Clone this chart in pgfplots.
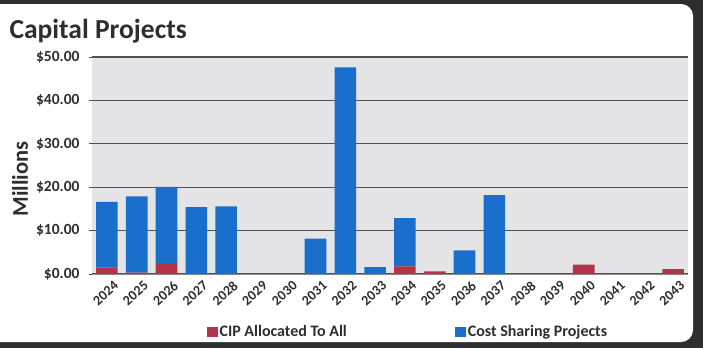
\documentclass[border=0pt]{standalone}
\usepackage{pgfplots}
\pgfplotsset{compat=1.18}
\usepackage{fontspec}
\setmainfont{Carlito}
\definecolor{cipred}{HTML}{B3344A}
\definecolor{costblue}{HTML}{1A6FCC}
\definecolor{plotbg}{HTML}{E4E4E7}
\definecolor{framec}{HTML}{2E2E2E}
\begin{document}
\begin{tikzpicture}
\useasboundingbox (0pt,0pt) rectangle (703pt,-348pt);
\fill[framec] (0pt,0pt) rectangle (703pt,-348pt);
\fill[white, rounded corners=12pt] (-20pt,-4pt) rectangle (693pt,-342pt);
\node[anchor=west, font=\bfseries\fontsize{27.5}{27.5}\selectfont, text=framec] at (6pt,-31pt) {Capital Projects};
\node[rotate=90, font=\bfseries\fontsize{22.5}{22.5}\selectfont, text=framec] at (20pt,-179pt) {Millions};
\begin{axis}[
  at={(92pt,-274pt)}, anchor=south west,
  scale only axis, width=596pt, height=217pt,
  ybar stacked, bar width=0.725,
  xmin=-0.5, xmax=19.5, ymin=0, ymax=50,
  xtick={0,...,19},
  xticklabels={2024,2025,2026,2027,2028,2029,2030,2031,2032,2033,2034,2035,2036,2037,2038,2039,2040,2041,2042,2043},
  x tick label style={rotate=42, anchor=north east, font=\bfseries\fontsize{14}{14}\selectfont, text=framec, xshift=6pt, yshift=-3pt},
  xtick style={draw=none},
  ytick={0,10,20,30,40,50},
  yticklabels={\$0.00,\$10.00,\$20.00,\$30.00,\$40.00,\$50.00},
  y tick label style={font=\bfseries\fontsize{15.5}{15.5}\selectfont, text=framec, xshift=-6pt},
  ytick style={draw=black!70, line width=1pt},
  tick align=outside, major tick length=3pt,
  ymajorgrids, major grid style={draw=black!68, line width=1.1pt},
  axis background/.style={fill=plotbg},
  axis x line*=bottom, axis y line*=left,
  x axis line style={draw=black!45, line width=0.8pt},
  y axis line style={draw=none},
  legend columns=2,
  legend style={at={(0.53,-0.267)}, anchor=center, draw=none, fill=none,
    font=\bfseries\fontsize{16}{16}\selectfont, text=framec,
    /tikz/every even column/.append style={column sep=106pt}},
  legend image code/.code={\fill[#1] (0pt,-5pt) rectangle (11pt,5pt);},
]
\addplot[fill=cipred, draw=none] coordinates {
(0,1.5) (1,0.3) (2,2.5) (3,0) (4,0) (5,0) (6,0) (7,0) (8,0) (9,0)
(10,1.75) (11,0.6) (12,0) (13,0) (14,0) (15,0) (16,2.15) (17,0) (18,0) (19,1.15)};
\addplot[fill=costblue, draw=none] coordinates {
(0,15.1) (1,17.6) (2,17.6) (3,15.4) (4,15.6) (5,0) (6,0) (7,8.15) (8,47.6) (9,1.6)
(10,11.15) (11,0) (12,5.45) (13,18.2) (14,0) (15,0) (16,0) (17,0) (18,0) (19,0)};
\legend{CIP Allocated To All, Cost Sharing Projects}
\end{axis}
\end{tikzpicture}
\end{document}
